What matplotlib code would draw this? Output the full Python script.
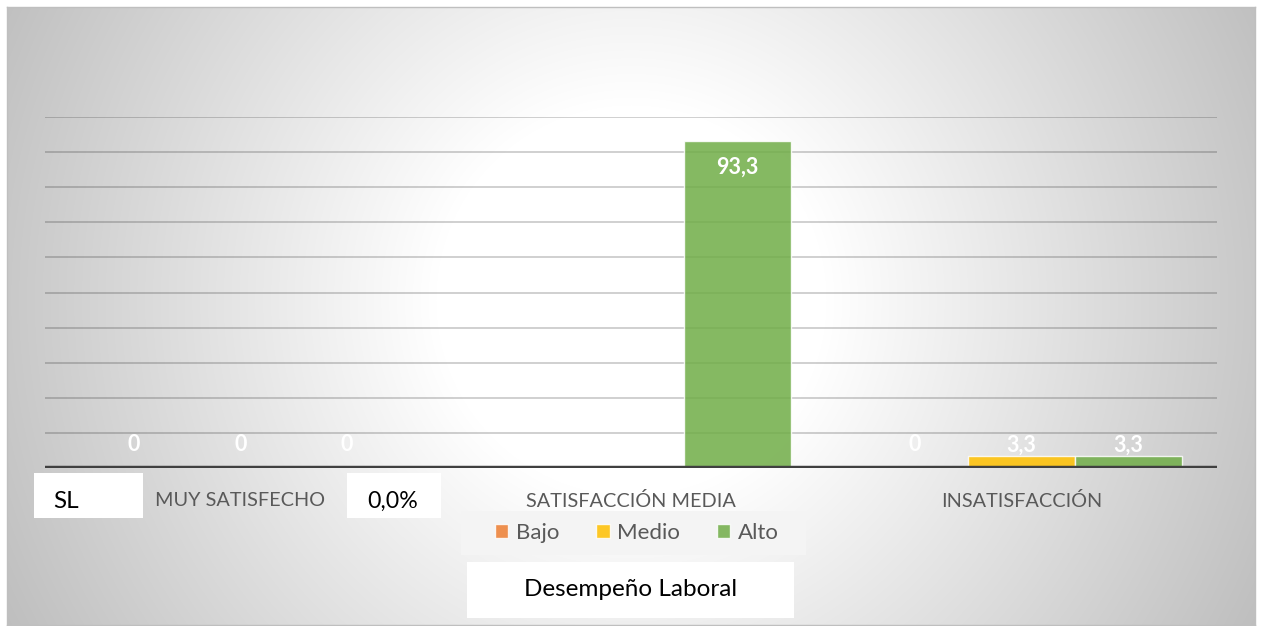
import numpy as np
import matplotlib
matplotlib.use("Agg")
import matplotlib.pyplot as plt
from matplotlib.patches import Rectangle

categories = ["MUY SATISFECHO", "SATISFACCIÓN MEDIA", "INSATISFACCIÓN"]
series_names = ["Bajo", "Medio", "Alto"]
bajo = [0, np.nan, 0]
medio = [0, np.nan, 3.3]
alto = [0, 93.3, 3.3]
series_values = [bajo, medio, alto]
series_colors = ["#ED7D31", "#FFC000", "#70AD47"]
y_max = 100
y_step = 10
title_text = "Desempeño Laboral"
extra_left = "SL"
extra_mid = "0,0%"

W, H = 1262, 626
fig = plt.figure(figsize=(W / 100, H / 100), dpi=100)
fig.patch.set_facecolor("white")
FONT = ["Lato", "DejaVu Sans"]

def fx(px):
    return px / W

def fy(py):
    return 1 - py / H

# chart area with radial gradient
cx0, cy0, cx1, cy1 = 7, 7, 1255, 625
bg = fig.add_axes([fx(cx0), fy(cy1), fx(cx1 - cx0), (cy1 - cy0) / H])
xx, yy = np.meshgrid(np.arange(cx0, cx1), np.arange(cy0, cy1))
d = np.hypot(xx - 631, yy - 300)
val = 255 - 0.127 * np.clip(d - 195, 0, None)
val = np.clip(val, 185, 255) / 255.0
img = np.dstack([val, val, val])
bg.imshow(img, aspect="auto", extent=[0, 1, 0, 1], origin="upper")
bg.set_xlim(0, 1)
bg.set_ylim(0, 1)
bg.set_xticks([])
bg.set_yticks([])
for s in bg.spines.values():
    s.set_color("#bfbfbf")
    s.set_linewidth(1)

# plot area
px0, px1 = 45, 1217
py_base, py_top = 468, 117
ax = fig.add_axes([fx(px0), fy(py_base), fx(px1 - px0), (py_base - py_top) / H])
ax.patch.set_alpha(0)
ax.set_ylim(0, y_max)
n = len(categories)
ax.set_xlim(-0.5, n - 0.5)
for gy in np.arange(y_step, y_max + 0.1, y_step):
    ax.axhline(gy, color="black", alpha=0.2, linewidth=1.3, zorder=1)
ax.axhline(0, color="#404040", linewidth=3.2, zorder=5)
for s in ax.spines.values():
    s.set_visible(False)
ax.set_yticks([])
ax.tick_params(axis="x", length=0, pad=17.5)
x = np.arange(n)
ax.set_xticks(x)
ax.set_xticklabels(categories, fontsize=14.3, color="#595959", family=FONT)

bw = 0.273
for i, (name, vals, col) in enumerate(zip(series_names, series_values, series_colors)):
    offs = (i - 1) * bw
    v = np.array(vals, dtype=float)
    ax.bar(x + offs, np.nan_to_num(v), width=bw, color=col, alpha=0.85,
           edgecolor=(1, 1, 1, 0.5), linewidth=1, zorder=3, label=name)
    for xi, vi in zip(x + offs, v):
        if np.isnan(vi):
            continue
        lab = ("%g" % vi).replace(".", ",")
        ly = max(vi - 7.5, 6.6)
        ax.text(xi, ly, lab, ha="center", va="center", color="white",
                fontsize=15.5, fontweight="bold", family=FONT, zorder=6)

# white boxes
def box(x0, y0, x1, y1, color="white"):
    fig.patches.append(Rectangle((fx(x0), fy(y1)), fx(x1 - x0), (y1 - y0) / H,
                                 transform=fig.transFigure, facecolor=color,
                                 edgecolor="none", zorder=10))

box(34, 473, 143, 518)
fig.text(fx(53), fy(501), extra_left, ha="left", va="center", fontsize=17.5,
         color="black", family=FONT, zorder=11)
box(347, 473, 441, 518)
fig.text(fx(367), fy(501), extra_mid, ha="left", va="center", fontsize=16.7,
         color="black", family=FONT, zorder=11)

# legend
box(461, 511, 806, 555, color="#f4f4f4")
handles, labels = ax.get_legend_handles_labels()
leg = fig.legend(handles, labels, loc="center", bbox_to_anchor=(fx(637), fy(533)),
                 ncol=3, frameon=False, handlelength=0.6,
                 handleheight=0.6, columnspacing=1.65, handletextpad=0.35,
                 prop={"family": FONT, "size": 16})
for t in leg.get_texts():
    t.set_color("#595959")
leg.set_zorder(12)

box(467, 562, 794, 618)
fig.text(fx(631), fy(590), title_text, ha="center", va="center", fontsize=17.5,
         color="black", family=FONT, zorder=11)

fig.savefig("out.png", dpi=100)
